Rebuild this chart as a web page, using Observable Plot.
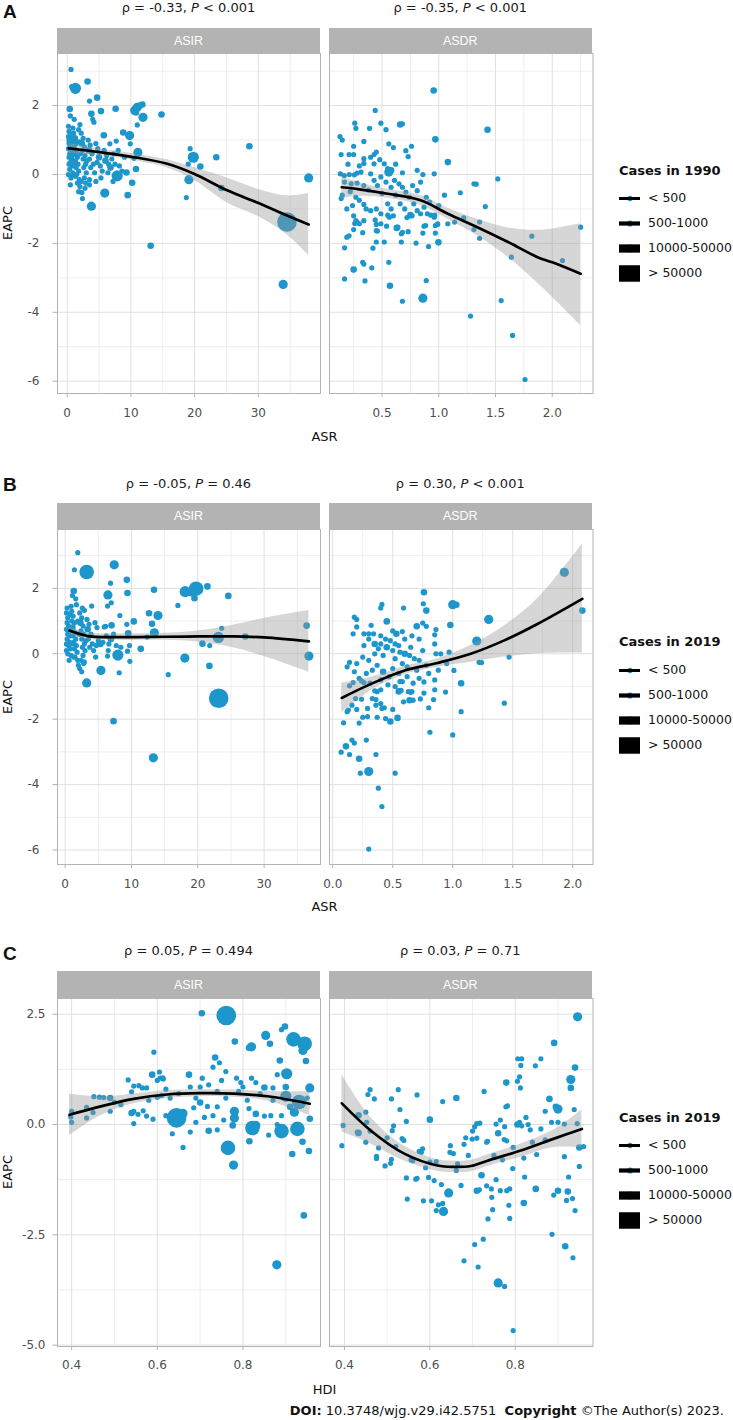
<!DOCTYPE html>
<html><head><meta charset="utf-8">
<script src="https://cdn.jsdelivr.net/npm/d3@7"></script>
<script src="https://cdn.jsdelivr.net/npm/@observablehq/plot@0.6"></script>
<style>
body{margin:0;background:#fff;font-family:"DejaVu Sans",Verdana,sans-serif;}
#root{position:relative;width:733px;height:1420px;overflow:hidden;background:#fff;}
#root svg text{font-family:"DejaVu Sans",Verdana,sans-serif !important;}
#root svg.facet text{font-size:12px !important;fill:#4d4d4d;}
#root svg.legend text{font-size:12.5px !important;fill:#111;}
.abs{position:absolute;white-space:nowrap;}
.strip{position:absolute;background:#b3b3b3;color:#fff;font-family:"Liberation Sans",Arial,sans-serif;font-size:12.5px;display:flex;align-items:center;justify-content:center;}
.sub{position:absolute;text-align:center;font-size:13px;line-height:16px;height:16px;color:#1a1a1a;white-space:nowrap;}
.letter{position:absolute;font-family:"Liberation Sans",Arial,sans-serif;font-weight:bold;font-size:19px;line-height:20px;color:#111;}
.ytitle{position:absolute;font-size:13px;line-height:16px;transform:translate(-50%,-50%) rotate(-90deg);color:#111;}
.xtitle{position:absolute;font-size:13px;line-height:16px;transform:translate(-50%,-50%);color:#111;}
.ltitle{position:absolute;font-weight:bold;font-size:13px;line-height:16px;transform:translateY(-50%);color:#111;white-space:nowrap;}
</style>
</head><body><div id="root"></div>
<script>
// ---------- DATA ----------
// points: [x, EAPC, case-size class]
const A_ASIR = [
[0.6,3.05,1],[1.3,2.5,4],[0.7,2.55,1],[3.2,2.7,2],[3.5,2.13,1],[4.7,2.23,2],[0.4,1.9,2],[3.8,1.76,2],[5.3,1.84,2],[7.6,1.91,2],[4.2,1.52,1],[4.0,1.6,1],[0.5,1.7,1],[1.1,1.6,1],[2.0,1.45,1],[1.8,1.3,1],
[10.6,1.86,3],[11.0,1.95,3],[11.4,2.0,2],[11.8,2.03,2],[10.8,1.8,2],[11.9,1.66,3],[14.8,1.74,2],[11.0,1.44,1],[9.8,1.13,3],[8.8,1.22,2],[5.75,1.14,2],[7.7,0.97,1],[6.7,0.89,1],[9.9,0.89,1],[11.1,0.64,3],[10.5,0.47,1],[7.85,-0.04,4],[5.9,-0.54,3],[9.5,-0.6,2],[3.8,-0.92,3],[10.2,-0.24,2],[10.8,0.16,2],[9.3,0.06,2],[3.5,-0.15,1],[3.5,-0.3,1],[2.3,-0.52,1],[0.6,-0.04,1],
[19.1,-0.15,3],[19.8,0.5,4],[19.3,0.75,1],[20.9,0.23,2],[19.0,0.3,1],[23.4,0.5,2],[18.7,-0.67,1],[24.2,-0.39,2],[28.6,0.82,2],[37.9,-0.1,3],[34.5,-1.38,6],[13.1,-2.07,2],[33.9,-3.19,3],
[0.2,1.4,1],[0.3,1.25,1],[0.2,1.1,1],[0.4,1.0,2],[0.3,0.9,1],[0.5,0.85,1],[0.2,0.75,1],[0.6,0.7,1],[0.4,0.6,1],[0.3,0.5,1],[0.7,0.45,1],[0.5,0.35,1],[0.8,0.25,1],[0.4,0.15,1],[0.9,0.05,1],[0.6,-0.1,1],[1.0,1.2,1],[1.2,1.05,2],[1.0,0.95,1],[1.4,0.9,1],[1.1,0.8,1],[1.5,0.7,1],[1.2,0.6,2],[1.6,0.5,1],[1.3,0.4,1],[1.7,0.3,1],[1.4,0.2,1],[1.8,0.1,1],[1.5,0.0,1],[1.9,-0.15,1],[1.6,-0.25,1],[2.0,-0.35,1],[2.2,1.2,1],[2.5,1.05,1],[2.3,0.9,2],[2.7,0.8,1],[2.4,0.7,1],[2.8,0.55,1],[2.5,0.45,1],[2.9,0.3,1],[2.6,0.2,1],[3.0,0.05,1],[2.7,-0.1,1],[2.2,-0.2,1],[2.8,-0.4,1],[2.4,-0.7,1],[3.3,1.0,1],[3.6,0.85,1],[3.4,0.7,2],[3.9,0.6,1],[3.5,0.45,1],[4.1,0.3,1],[3.7,0.2,1],[4.3,0.05,1],[4.5,0.9,1],[4.8,0.75,1],[5.0,0.5,2],[4.7,0.35,1],[5.2,0.25,1],[5.5,0.1,1],[5.8,0.7,1],[6.2,0.55,1],[6.0,0.4,2],[6.5,0.3,1],[6.8,0.2,2],[7.0,0.45,1],[7.3,0.6,1],[6.4,0.05,1],[7.5,0.3,1],[8.2,0.25,1],[8.6,0.1,1],[4.5,-0.2,1],[5.3,-0.1,1],[7.2,-0.2,1],[8.0,0.7,1],[9.0,0.5,1],[0.9,1.35,1],[0.7,1.15,1],[1.9,0.95,1],[2.1,0.6,1],[0.8,0.55,1],[1.1,0.3,1],[0.3,0.3,1],[1.3,-0.05,1],[0.5,-0.3,1],[1.8,-0.5,1],[2.9,-0.25,1],[3.1,0.4,1],[0.2,0.0,1]
];
const A_ASDR = [
[0.955,2.44,2],[0.44,1.86,1],[0.26,1.49,1],[0.27,1.34,1],[0.39,1.34,1],[0.49,1.49,1],[0.535,1.3,1],[0.66,1.45,2],[0.68,1.47,1],[1.43,1.3,2],[0.97,1.02,2],[0.13,1.1,1],[0.15,1.0,1],[0.25,0.82,1],[0.34,0.96,1],[0.14,0.58,1],[0.21,0.58,1],[0.25,0.58,1],[0.34,0.46,1],[0.34,0.32,1],[0.43,0.58,1],[0.45,0.65,1],[0.56,0.89,1],[0.6,0.78,1],[0.56,0.07,3],[0.58,0.12,2],[0.71,0.69,1],[0.73,0.52,1],[0.76,0.82,1],[0.81,0.12,1],[0.86,0.0,1],[0.96,0.02,1],[1.08,0.36,2],[1.31,-0.27,1],[1.33,-0.28,1],[1.52,-0.13,1],[1.19,-0.53,1],[1.41,-0.93,1],[2.25,-1.53,1],
[1.82,-1.79,1],[1.64,-2.4,1],[2.09,-2.5,1],[1.55,-3.66,1],[1.28,-4.11,1],[1.65,-4.67,1],[1.76,-5.95,1],[0.86,-3.59,3],[0.68,-3.68,1],[0.57,-3.23,2],[0.89,-3.08,1],[0.17,-3.03,1],[0.35,-3.09,1],[0.41,-2.71,1],[0.25,-2.76,2],[0.33,-2.55,1],[0.34,-2.6,1],[0.56,-2.55,1],[0.17,-2.13,1],[0.42,-2.14,1],[0.8,-1.99,1],[0.91,-2.09,1],[0.997,-1.97,2],[0.67,-1.96,1],[0.52,-1.96,1],[0.45,-1.96,1],[0.19,-1.82,1],[0.21,-1.78,1],[0.25,-1.6,1],[0.26,-1.42,1],[0.28,-1.38,1],[0.33,-1.69,1],[0.46,-1.64,1],[0.54,-1.5,1],[0.63,-1.55,2],[0.67,-1.72,1],[0.68,-1.68,1],[0.73,-1.66,1],[0.86,-1.7,1],[0.97,-1.7,1],[0.87,-1.5,1],[0.885,-1.48,1],[0.97,-1.48,1],[0.99,-1.45,1],[1.08,-1.43,1],[1.14,-1.38,1],[1.22,-1.26,1],[1.31,-1.6,1],[1.36,-1.85,1],[1.36,-1.38,1],[0.45,-1.45,1],[0.44,-1.32,1],[0.75,-1.18,2],[0.765,-1.2,1],[0.93,-1.18,1],[0.965,-1.18,1],
[0.133,0.02,1],[0.168,-0.03,1],[0.212,0.0,1],[0.256,-0.01,1],[0.28,0.04,1],[0.315,0.07,1],[0.17,-0.22,1],[0.228,-0.27,1],[0.28,-0.25,1],[0.34,-0.32,1],[0.27,-0.66,1],[0.3,-0.75,1],[0.34,-0.87,1],[0.14,-0.7,1],[0.15,-0.6,1],[0.25,-1.2,1],[0.27,-1.34,1],[0.3,-1.43,1],[0.34,-1.34,1],[0.40,0.02,1],[0.43,-0.17,1],[0.46,-0.32,1],[0.49,-0.07,1],[0.535,-0.22,1],[0.58,-0.37,1],[0.61,-0.17,1],[0.65,-0.27,1],[0.68,-0.37,1],[0.71,-0.51,1],[0.74,-0.66,1],[0.78,-0.85,1],[0.81,-1.05,1],[0.84,-1.14,1],[0.87,-0.95,1],[0.90,-1.14,1],[0.96,-1.24,1],[0.99,-1.43,1],[0.36,-1.0,1],[0.40,-1.05,1],[0.45,-1.0,1],[0.49,-1.14,1],[0.55,-0.85,1],[0.58,-1.0,1],[0.565,-1.24,1],[0.64,-1.53,1],[0.49,-1.43,1],[0.45,-1.63,1],[0.40,0.5,1],[0.43,0.31,1],[0.48,0.43,1],[0.52,0.31,1],[0.55,0.17,1],[0.77,-0.32,1],[0.81,-0.47,1],[0.84,-0.22,1],[0.89,-0.66,1],[0.62,-0.6,1],[0.5,-0.55,1],[0.38,-0.45,1],[0.22,-0.5,1],[0.24,-0.9,1],[0.19,-1.0,1],[0.55,-1.18,1],[0.6,-1.2,1],[0.7,-1.0,1],[0.72,-1.25,1],[0.66,-0.85,1],[0.92,-0.8,1],[1.0,-0.9,1],[1.05,-0.6,1],[0.62,0.3,1],[0.68,0.05,1],[0.3,0.25,1],[0.2,0.3,1]
];
const B_ASIR = [
[1.9,3.09,1],[1.4,2.57,1],[3.25,2.5,5],[7.4,2.72,3],[1.3,1.92,2],[1.1,1.78,1],[1.6,1.68,1],[6.85,2.16,1],[9.3,2.26,2],[6.45,1.8,3],[9.4,1.86,2],[13.4,1.96,2],[6.95,1.56,1],[6.4,1.46,1],[4.0,1.46,1],[2.9,1.33,1],[8.25,1.17,1],[10.35,0.99,2],[9.3,0.9,1],[7.0,0.87,2],[6.1,0.84,1],[12.65,1.24,2],[14.0,1.17,3],[13.1,0.92,2],[13.45,0.64,3],[9.5,0.63,2],[12.35,0.51,1],[11.4,0.15,2],[9.7,0.25,1],[9.4,0.08,1],[7.95,-0.04,4],[6.4,-0.07,1],[5.4,-0.51,3],[8.15,-0.58,1],[9.75,-0.23,1],[3.25,-0.89,3],[7.3,-2.06,2],[13.3,-3.18,3],[15.55,-0.64,1],[17.0,1.48,1],[18.1,1.9,4],[19.75,1.99,5],[19.5,1.7,2],[19.0,1.85,2],[21.45,2.06,2],[24.6,1.77,2],[18.05,-0.13,3],[20.7,0.31,2],[21.8,0.25,1],[21.75,-0.37,2],[23.1,0.5,4],[23.15,-1.36,6],[23.6,0.78,1],[27.15,0.53,2],[36.4,0.86,2],[36.75,-0.07,3],
[0.3,1.4,1],[0.2,1.25,1],[0.4,1.1,1],[0.3,0.95,1],[0.5,0.85,1],[0.2,0.75,1],[0.6,0.7,2],[0.4,0.6,1],[0.3,0.45,1],[0.7,0.35,1],[0.5,0.25,1],[0.8,0.15,1],[0.4,0.0,1],[0.9,-0.05,1],[1.0,1.3,1],[1.2,1.15,1],[1.0,1.0,1],[1.4,0.95,1],[1.1,0.8,2],[1.5,0.65,1],[1.2,0.55,1],[1.6,0.45,1],[1.3,0.35,1],[1.7,0.25,1],[1.4,0.15,1],[1.8,0.05,1],[1.5,-0.1,1],[1.9,-0.2,1],[2.0,-0.35,1],[2.2,-0.45,1],[2.2,1.25,1],[2.5,1.1,1],[2.3,0.95,2],[2.7,0.85,1],[2.4,0.7,1],[2.8,0.6,1],[2.5,0.45,1],[2.9,0.3,1],[2.6,0.2,1],[3.0,0.1,1],[2.7,-0.05,1],[2.4,-0.2,1],[2.8,-0.3,1],[2.5,-0.55,1],[3.3,1.05,1],[3.6,0.9,1],[3.4,0.75,2],[3.9,0.6,1],[3.5,0.45,1],[4.1,0.3,1],[3.7,0.2,1],[4.3,0.1,1],[4.5,0.95,1],[4.8,0.8,1],[5.0,0.4,1],[4.7,0.25,1],[5.3,0.3,2],[5.7,0.35,1],[5.9,0.82,1],[6.2,0.55,1],[6.6,0.3,1],[6.9,0.45,2],[7.3,0.6,1],[6.5,0.1,1],[7.7,0.25,1],[8.4,0.2,1],[4.6,-0.1,1],[0.9,1.45,1],[0.7,1.2,1],[1.9,1.0,1],[2.1,0.6,1],[0.8,0.55,1],[1.1,0.3,1],[0.2,0.3,1],[1.3,-0.1,1],[0.6,-0.2,1],[2.9,-0.25,1],[3.1,0.4,1],[0.2,0.1,1],[1.7,1.5,1],[2.6,1.4,1]
];
const B_ASDR = [
[1.93,2.49,3],[2.08,1.32,2],[0.76,1.88,2],[0.755,1.53,1],[0.78,1.32,2],[1.0,1.5,3],[1.03,1.5,2],[0.41,1.51,1],[0.4,1.4,1],[0.59,1.4,1],[1.3,1.05,3],[0.18,1.12,1],[0.2,1.05,1],[0.45,0.99,2],[0.32,0.87,1],[0.2,0.82,1],[0.17,0.61,1],[0.26,0.61,1],[0.3,0.61,1],[0.34,0.61,1],[0.53,0.61,2],[0.58,0.68,1],[0.75,0.94,1],[0.78,0.84,1],[0.70,0.84,2],[0.86,0.74,1],[0.85,0.58,1],[0.98,0.88,2],[1.2,0.39,3],[1.22,-0.26,1],[1.24,-0.27,1],[1.47,-0.1,1],[0.97,0.05,1],[0.86,0.0,1],[1.01,-0.51,1],[1.07,-0.9,2],[1.07,-1.77,1],[1.43,-1.51,1],[1.0,-2.48,1],[0.81,-2.4,1],[0.8,-1.65,1],[0.84,-1.4,1],[0.85,-1.1,1],[0.94,-1.17,1],[0.76,-0.86,1],[0.76,-1.2,1],[0.30,-3.6,3],[0.23,-3.65,1],[0.52,-3.65,1],[0.38,-4.11,1],[0.41,-4.67,1],[0.30,-5.97,1],[0.07,-3.01,1],[0.14,-3.08,1],[0.22,-3.21,2],[0.36,-3.08,1],[0.11,-2.83,2],[0.16,-2.64,1],[0.18,-2.73,1],[0.28,-2.64,1],[0.09,-2.11,1],[0.22,-2.12,1],[0.25,-1.94,1],[0.29,-1.92,1],[0.37,-1.94,1],[0.44,-1.98,1],[0.48,-2.07,2],[0.54,-1.96,2],[0.12,-1.77,1],[0.13,-1.72,1],[0.16,-1.57,1],[0.2,-1.7,1],[0.29,-1.67,1],[0.36,-1.57,1],[0.4,-1.52,1],[0.41,-1.67,1],[0.43,-1.65,1],[0.5,-1.7,1],[0.59,-1.47,1],[0.64,-1.42,2],[0.67,-1.42,1],[0.73,-1.38,1],[0.55,-1.15,2],[0.57,-1.12,1],[0.63,-1.16,1],[0.65,-1.18,1],[0.66,-1.16,1],[0.35,-1.13,1],[0.37,-1.16,1],[0.4,-1.1,1],[0.33,-1.37,1],[0.36,-1.4,1],[0.24,-1.39,1],[0.19,-1.37,1],[0.14,-0.98,1],[0.17,-0.88,1],[0.24,-0.83,1],[0.26,-0.88,1],
[0.14,-0.26,1],[0.2,-0.3,1],[0.25,-0.1,1],[0.3,-0.2,1],[0.35,0.0,1],[0.4,0.3,1],[0.42,-0.05,1],[0.45,0.2,2],[0.48,0.4,1],[0.5,0.1,1],[0.52,-0.15,1],[0.55,0.25,1],[0.58,-0.3,1],[0.6,0.0,2],[0.62,-0.4,1],[0.65,0.2,1],[0.68,-0.15,1],[0.7,-0.5,1],[0.72,0.45,1],[0.75,0.1,1],[0.78,-0.35,1],[0.8,-0.6,1],[0.33,-0.5,1],[0.37,-0.35,1],[0.42,-0.55,2],[0.47,-0.7,1],[0.5,-0.45,1],[0.55,-0.6,1],[0.58,-0.85,1],[0.62,-0.7,1],[0.67,-0.9,1],[0.72,-0.75,1],[0.28,-0.6,1],[0.22,-0.75,1],[0.18,-0.55,1],[0.26,0.25,1],[0.3,0.45,1],[0.35,0.3,2],[0.38,0.15,1],[0.44,0.45,1],[0.52,0.3,1],[0.6,0.45,1],[0.66,0.55,1],[0.85,0.3,1],[0.9,0.0,1],[0.88,-0.5,1],[0.95,-0.3,1],[0.46,-0.95,1],[0.52,-1.0,1],[0.56,-0.85,1],[0.31,-0.9,1],[0.4,-0.8,1],[0.5,0.7,1],[0.4,0.55,1],[0.56,0.05,1],[0.64,-0.05,1],[0.72,-0.2,1],[0.85,-0.8,1],[0.12,-0.4,1]
];
const C_ASIR = [
[0.704,2.52,2],[0.761,2.47,6],[0.592,1.64,1],[0.781,1.88,2],[0.82,1.76,3],[0.814,1.74,2],[0.853,2.02,3],[0.863,1.83,2],[0.898,2.22,2],[0.89,2.15,1],[0.918,1.93,5],[0.944,1.83,5],[0.94,1.68,3],[0.947,1.44,2],[0.886,1.45,2],[0.902,1.15,4],[0.88,1.13,1],[0.956,0.83,3],[0.9,0.85,2],[0.9,0.64,4],[0.931,0.51,5],[0.92,0.28,3],[0.927,-0.1,5],[0.89,-0.15,5],[0.822,-0.08,5],[0.83,-0.02,3],[0.939,-0.39,2],[0.915,-0.67,2],[0.954,-0.6,2],[0.956,0.13,2],[0.765,-0.53,5],[0.778,-0.92,3],[0.815,-0.38,2],[0.942,-2.06,2],[0.879,-3.18,3],[0.645,0.15,6],[0.66,0.25,3],[0.66,-0.52,1],[0.635,-0.21,1],[0.677,-0.17,1],[0.72,-0.14,2],[0.74,-0.12,1],[0.71,0.16,1],[0.674,1.13,2],[0.685,0.38,1],[0.717,0.41,1],[0.73,1.3,1],[0.735,1.52,2],[0.745,1.4,1],[0.75,1.0,1],[0.705,1.05,1],[0.755,0.1,1],[0.776,-0.02,2],[0.78,0.15,3],[0.78,0.3,3],[0.814,0.36,1],[0.83,0.24,2],[0.85,0.19,1],[0.86,-0.24,1],[0.87,0.83,1],[0.85,0.84,2],[0.865,0.2,1],[0.88,0.0,1],[0.89,0.2,1],[0.82,1.05,1],
[0.398,0.17,1],[0.4,0.05,1],[0.4,0.3,1],[0.435,0.15,1],[0.435,0.39,1],[0.45,0.27,1],[0.452,0.63,1],[0.465,0.62,1],[0.475,0.61,1],[0.49,0.6,2],[0.49,0.3,1],[0.532,1.01,1],[0.54,0.74,1],[0.545,0.87,1],[0.54,0.26,2],[0.555,0.23,1],[0.545,0.02,1],[0.545,0.3,1],[0.557,0.88,1],[0.565,0.83,1],[0.575,0.83,1],[0.567,0.31,1],[0.575,0.19,1],[0.59,0.12,1],[0.588,1.13,2],[0.6,1.0,1],[0.607,1.05,1],[0.613,1.06,1],[0.605,1.19,1],[0.614,1.03,1],[0.61,0.66,1],[0.62,0.8,1],[0.677,0.85,1],[0.5,0.5,1],[0.515,0.45,1],[0.58,0.55,1],[0.6,0.62,1],[0.63,0.6,1],[0.65,0.7,1],[0.69,0.6,1],[0.7,0.85,1],[0.72,0.9,1],[0.74,0.75,1],[0.76,0.6,1],[0.79,0.75,1],[0.81,0.55,1],[0.84,0.7,1],[0.7,0.5,2],[0.62,0.2,1],[0.69,0.05,1],[0.795,0.95,1],[0.74,0.4,1],[0.76,1.2,1],[0.785,1.05,1],[0.8,0.85,1],[0.73,0.2,1],[0.83,0.95,1],[0.87,0.55,1],[0.91,0.4,2],[0.95,0.6,1]
];
const C_ASDR = [
[0.946,2.44,3],[0.891,1.85,2],[0.94,1.29,2],[0.93,1.02,3],[0.93,0.83,2],[0.938,0.34,1],[0.806,1.49,1],[0.815,1.49,1],[0.813,1.34,1],[0.86,1.49,1],[0.847,1.33,1],[0.81,1.08,1],[0.805,0.98,1],[0.812,0.83,1],[0.779,0.95,2],[0.727,0.75,1],[0.662,0.6,2],[0.63,0.52,1],[0.57,0.67,1],[0.526,0.79,1],[0.51,0.58,1],[0.46,0.79,1],[0.455,0.68,1],[0.47,0.58,1],[0.53,0.34,1],[0.545,0.07,1],[0.515,-0.03,1],[0.512,-0.14,1],[0.452,0.05,1],[0.433,0.21,2],[0.433,-0.19,2],[0.397,-0.02,1],[0.394,-0.48,1],[0.6,0.11,2],[0.88,0.58,2],[0.9,0.35,3],[0.895,0.4,2],[0.87,0.3,1],[0.885,0.05,1],[0.9,0.05,1],[0.915,0.01,1],[0.825,0.16,1],[0.805,0.0,2],[0.81,0.05,1],[0.815,-0.03,1],[0.83,0.0,1],[0.835,-0.12,1],[0.775,-0.05,1],[0.755,0.01,1],[0.765,0.1,1],[0.778,0.4,1],[0.782,0.42,1],[0.71,0.02,1],[0.717,0.03,1],[0.705,-0.05,1],[0.7,-0.15,1],[0.735,-0.38,1],[0.733,-0.4,1],[0.71,-0.31,1],[0.699,-0.33,1],[0.68,-0.45,1],[0.684,-0.3,1],[0.648,-0.48,1],[0.655,-0.66,1],[0.721,-1.15,2],[0.76,-0.2,2],[0.774,-0.34,1],[0.78,-0.37,1],[0.795,-0.52,1],[0.794,-1.0,1],[0.82,-0.76,1],[0.822,-1.19,1],[0.85,-0.68,1],[0.848,-1.46,2],[0.89,-1.6,1],[0.9,-1.5,2],[0.915,-0.73,1],[0.925,-1.19,1],[0.923,-1.52,2],[0.95,-0.95,1],[0.95,-0.52,2],[0.934,-1.68,1],[0.92,-1.72,1],[0.94,-1.95,1],[0.886,-2.49,1],[0.917,-2.76,2],[0.935,-3.02,1],[0.82,-1.78,2],[0.785,-1.83,1],[0.787,-2.13,1],[0.78,-1.5,1],[0.787,-1.46,1],[0.765,-1.5,1],[0.755,-1.25,1],[0.745,-1.65,1],[0.744,-1.46,1],[0.747,-1.93,1],[0.736,-2.14,1],[0.733,-1.39,1],[0.71,-1.5,2],[0.716,-1.48,1],[0.725,-2.6,1],[0.705,-2.72,1],[0.713,-3.23,1],[0.68,-3.09,1],[0.76,-3.59,3],[0.775,-3.67,1],[0.795,-4.67,1],[0.644,-1.55,3],[0.673,-1.38,1],[0.632,-1.97,3],[0.62,-1.82,1],[0.63,-1.79,1],[0.615,-1.95,1],[0.604,-1.73,1],[0.585,-1.73,1],[0.547,-1.69,1],[0.61,-1.27,1],[0.597,-1.2,1],[0.627,-1.36,1],[0.567,-1.24,1],[0.57,-1.22,1],[0.545,-1.21,1],[0.575,-0.61,1],[0.583,-0.55,1],[0.58,-0.63,1],[0.556,-0.8,1],[0.56,-0.82,1],[0.51,-0.79,1],[0.508,-0.88,1],[0.495,-0.94,1],[0.475,-0.72,1],[0.475,-0.77,1],[0.48,-0.53,1],[0.43,-0.17,1],[0.45,0.28,1],[0.535,-0.32,1],[0.539,-0.36,1],[0.615,-0.84,1],[0.647,-0.63,1],[0.665,-0.89,1],[0.662,-1.04,1],[0.6,-0.85,1],[0.59,-0.98,1],[0.45,-0.4,1],[0.52,-0.5,1],[0.5,-0.3,1],[0.46,-0.15,1],[0.69,-0.7,1],[0.75,-0.7,1],[0.77,-0.8,1],[0.84,-0.4,1],[0.86,-0.1,1],[0.87,-0.35,1],[0.945,0.02,1],[0.96,-0.5,1]
];
// smooth fits: [x, fit, lower, upper]
const A_ASIR_FIT = [[0.25,0.76,0.61,0.91],[5,0.65,0.55,0.75],[9.9,0.52,0.42,0.62],[15.7,0.31,0.19,0.43],[19.9,0.02,-0.16,0.2],[25.1,-0.46,-0.82,-0.1],[30.3,-0.85,-1.25,-0.45],[34.5,-1.19,-1.75,-0.62],[37.9,-1.45,-2.35,-0.55]];
const A_ASDR_FIT = [[0.145,-0.37,-0.70,-0.06],[0.3,-0.43,-0.63,-0.24],[0.55,-0.56,-0.69,-0.43],[0.84,-0.75,-0.89,-0.61],[1.08,-1.14,-1.30,-0.98],[1.34,-1.53,-1.78,-1.30],[1.61,-1.96,-2.40,-1.55],[1.87,-2.40,-3.15,-1.62],[2.0,-2.55,-3.56,-1.58],[2.25,-2.88,-4.38,-1.43]];
const B_ASIR_FIT = [[0.66,0.71,0.59,0.83],[3.5,0.54,0.44,0.64],[8,0.51,0.41,0.61],[15,0.52,0.41,0.63],[20,0.53,0.36,0.70],[25,0.53,0.2,0.86],[30,0.50,-0.08,1.08],[36.75,0.38,-0.56,1.32]];
const B_ASDR_FIT = [[0.075,-1.35,-1.80,-0.90],[0.32,-0.92,-1.12,-0.72],[0.6,-0.51,-0.64,-0.38],[0.875,-0.28,-0.41,-0.15],[1.15,0.0,-0.26,0.25],[1.43,0.41,-0.1,0.85],[1.71,0.92,0.0,1.70],[2.08,1.68,0.02,3.36]];
const C_ASIR_FIT = [[0.395,0.22,-0.25,0.69],[0.468,0.41,0.2,0.62],[0.545,0.58,0.47,0.69],[0.623,0.68,0.59,0.77],[0.701,0.71,0.63,0.79],[0.779,0.70,0.62,0.78],[0.857,0.64,0.53,0.75],[0.956,0.47,0.2,0.74]];
const C_ASDR_FIT = [[0.394,0.48,-0.17,1.13],[0.462,-0.14,-0.44,0.16],[0.54,-0.66,-0.83,-0.49],[0.618,-0.93,-1.06,-0.80],[0.657,-0.96,-1.09,-0.83],[0.696,-0.94,-1.07,-0.81],[0.735,-0.82,-0.95,-0.69],[0.813,-0.59,-0.74,-0.44],[0.891,-0.32,-0.52,-0.12],[0.956,-0.10,-0.53,0.33]];
// ticks
const ASR_TICKS = [0,10,20,30], ASR_MINOR = [5,15,25,35];
const A_ASDR_TICKS = [0.5,1.0,1.5,2.0], A_ASDR_MINOR = [0.25,0.75,1.25,1.75,2.25];
const B_ASDR_TICKS = [0,0.5,1.0,1.5,2.0], B_ASDR_MINOR = [0.25,0.75,1.25,1.75];
const HDI_TICKS = [0.4,0.6,0.8], HDI_MINOR = [0.5,0.7,0.9];
const AB_Y_TICKS = [-6,-4,-2,0,2], AB_Y_MINOR = [-5,-3,-1,1,3];
const C_Y_TICKS = [-5,-2.5,0,2.5], C_Y_MINOR = [-3.75,-1.25,1.25];
const FACETS = ["ASIR","ASDR"];
const LEGEND_CATS = ["< 500","500-1000","10000-50000","> 50000"];
const SUBTITLES = [
  ["ρ = -0.33, <i>P</i> < 0.001","ρ = -0.35, <i>P</i> < 0.001"],
  ["ρ = -0.05, <i>P</i> = 0.46","ρ = 0.30, <i>P</i> < 0.001"],
  ["ρ = 0.05, <i>P</i> = 0.494","ρ = 0.03, <i>P</i> = 0.71"]
];
const LEGEND_TITLES = ["Cases in 1990","Cases in 2019","Cases in 2019"];

// ---------- STYLE ----------
const BLUE = "#1d96cc";
const R_DOMAIN = [1,2,3,4,5,6];
const R_RANGE = [2.6,3.3,4.6,5.6,7.3,9.8];
const LEGEND_DOT_R = [2.2,2.9,4.9,9.4];
const KEY_WIDTH = [3,4.2,8.3,16.5];
const root = document.getElementById("root");
const STYLE = {fontFamily:'"DejaVu Sans", Verdana, sans-serif', fontSize:"12px", color:"#4d4d4d", background:"transparent", overflow:"visible"};
const intFmt = d => String(d);
const dec1 = d => d.toFixed(1);

function addDiv(cls, html, css){
  const d = document.createElement("div");
  d.className = cls; d.innerHTML = html;
  Object.assign(d.style, css);
  root.appendChild(d); return d;
}

function facet(o){
  const pw = o.x1 - o.x0, ph = o.y1 - o.y0;
  const mL = o.yAxis ? o.x0 : 1, mR = 1, mT = 1, mB = 34;
  const marks = [
    Plot.gridX(o.xMinor, {stroke:"#eeeeee", strokeOpacity:1}),
    Plot.gridY(o.yMinor, {stroke:"#eeeeee", strokeOpacity:1}),
    Plot.gridX(o.xTicks, {stroke:"#e0e0e0", strokeOpacity:1}),
    Plot.gridY(o.yTicks, {stroke:"#e0e0e0", strokeOpacity:1}),
    Plot.dot(o.data, {x:d=>d[0], y:d=>d[1], r:d=>d[2], fill:BLUE, stroke:"none"}),
    Plot.areaY(o.fit, {x:d=>d[0], y1:d=>d[2], y2:d=>d[3], fill:"#999999", fillOpacity:0.4, curve:"catmull-rom"}),
    Plot.line(o.fit, {x:d=>d[0], y:d=>d[1], stroke:"#000", strokeWidth:2.7, curve:"catmull-rom"}),
    Plot.frame({stroke:"#b3b3b3"}),
    Plot.axisX({ticks:o.xTicks, tickFormat:o.xFmt, tickSize:4, tickPadding:o.xPad, stroke:"#b3b3b3", fill:"#4d4d4d", fontSize:12, label:null})
  ];
  if (o.yAxis) marks.push(Plot.axisY({ticks:o.yTicks, tickFormat:o.yFmt, tickSize:4.5, tickPadding:o.yPad, stroke:"#b3b3b3", fill:"#4d4d4d", fontSize:12, label:null}));
  const svg = Plot.plot({
    width: mL+pw+mR, height: mT+ph+mB,
    marginLeft: mL, marginRight: mR, marginTop: mT, marginBottom: mB,
    x: {domain:o.xDomain, axis:null},
    y: {domain:o.yDomain, axis:null},
    r: {type:"linear", domain:R_DOMAIN, range:R_RANGE},
    style: STYLE, marks
  });
  svg.classList.add("facet");
  Object.assign(svg.style, {position:"absolute", left:(o.x0-mL)+"px", top:(o.y0-mT)+"px"});
  root.appendChild(svg);
}

function legend(title, titleY, firstY){
  addDiv("ltitle", title, {left:"619px", top:titleY+"px"});
  const step = 25.8;
  const svg = Plot.plot({
    width: 115, height: step*3 + 26,
    marginLeft:0, marginRight:0, marginTop:13, marginBottom:13,
    x: {domain:[0,115], range:[0,115], axis:null},
    y: {type:"point", domain:LEGEND_CATS, padding:0, axis:null},
    style: {...STYLE, color:"#111"},
    marks: [
      Plot.dot(LEGEND_CATS, {x:10.5, y:d=>d, r:(d,i)=>LEGEND_DOT_R[i], fill:BLUE, stroke:"none"}),
      Plot.ruleY(LEGEND_CATS, {y:d=>d, x1:0, x2:21, stroke:"#000", strokeWidth:(d,i)=>KEY_WIDTH[i]}),
      Plot.text(LEGEND_CATS, {x:28.5, y:d=>d, text:d=>d, textAnchor:"start", fill:"#111", fontSize:12.5})
    ]
  });
  svg.classList.add("legend");
  Object.assign(svg.style, {position:"absolute", left:"618.5px", top:(firstY-13)+"px"});
  root.appendChild(svg);
}

const COLS = [[57,320],[328.5,592]];
const ROWS = [
  {L:"A", letterY:12, subY:8, strip:[28,53], panel:[53,393], yDomain:[-6.357,3.512], yTicks:AB_Y_TICKS, yMinor:AB_Y_MINOR, yFmt:intFmt, yPad:13.5, xPad:11, xTitle:"ASR", xTitleY:437,
   facets:[{data:A_ASIR, fit:A_ASIR_FIT, xDomain:[-1.52,39.76], xTicks:ASR_TICKS, xMinor:ASR_MINOR, xFmt:intFmt},
           {data:A_ASDR, fit:A_ASDR_FIT, xDomain:[0.0374,2.359], xTicks:A_ASDR_TICKS, xMinor:A_ASDR_MINOR, xFmt:dec1}],
   legendTitleY:171, legendFirstY:197},
  {L:"B", letterY:485, subY:484, strip:[503,529], panel:[529,864], yDomain:[-6.443,3.80], yTicks:AB_Y_TICKS, yMinor:AB_Y_MINOR, yFmt:intFmt, yPad:13.5, xPad:11, xTitle:"ASR", xTitleY:907,
   facets:[{data:B_ASIR, fit:B_ASIR_FIT, xDomain:[-1.15,38.5], xTicks:ASR_TICKS, xMinor:ASR_MINOR, xFmt:intFmt},
           {data:B_ASDR, fit:B_ASDR_FIT, xDomain:[-0.027,2.169], xTicks:B_ASDR_TICKS, xMinor:B_ASDR_MINOR, xFmt:dec1}],
   legendTitleY:642.3, legendFirstY:669},
  {L:"C", letterY:954, subY:951, strip:[971,998], panel:[998,1346], yDomain:[-5.032,2.856], yTicks:C_Y_TICKS, yMinor:C_Y_MINOR, yFmt:dec1, yPad:7.5, xPad:10, xTitle:"HDI", xTitleY:1390,
   facets:[{data:C_ASIR, fit:C_ASIR_FIT, xDomain:[0.367,0.981], xTicks:HDI_TICKS, xMinor:HDI_MINOR, xFmt:dec1},
           {data:C_ASDR, fit:C_ASDR_FIT, xDomain:[0.365,0.982], xTicks:HDI_TICKS, xMinor:HDI_MINOR, xFmt:dec1}],
   legendTitleY:1117.7, legendFirstY:1144}
];

ROWS.forEach((row, ri) => {
  addDiv("letter", row.L, {left:"3px", top:(row.letterY-10)+"px"});
  row.facets.forEach((f, ci) => {
    const [x0, x1] = COLS[ci];
    addDiv("sub", SUBTITLES[ri][ci], {left:x0+"px", width:(x1-x0)+"px", top:(row.subY-8)+"px"});
    addDiv("strip", FACETS[ci], {left:x0+"px", width:(x1-x0)+"px", top:row.strip[0]+"px", height:(row.strip[1]-row.strip[0])+"px"});
    facet({...f, x0, x1, y0:row.panel[0], y1:row.panel[1], yDomain:row.yDomain, yTicks:row.yTicks, yMinor:row.yMinor, yFmt:row.yFmt, yPad:row.yPad, xPad:row.xPad, yAxis: ci===0});
  });
  addDiv("ytitle", "EAPC", {left:"8px", top:((row.panel[0]+row.panel[1])/2)+"px"});
  addDiv("xtitle", row.xTitle, {left:"324.5px", top:row.xTitleY+"px"});
  legend(LEGEND_TITLES[ri], row.legendTitleY, row.legendFirstY);
});

addDiv("abs", '<b>DOI:</b> 10.3748/wjg.v29.i42.5751&nbsp; <b>Copyright</b> ©The Author(s) 2023.', {right:"9px", top:"1403px", fontSize:"13px", lineHeight:"16px", color:"#111"});
</script>
</body></html>
